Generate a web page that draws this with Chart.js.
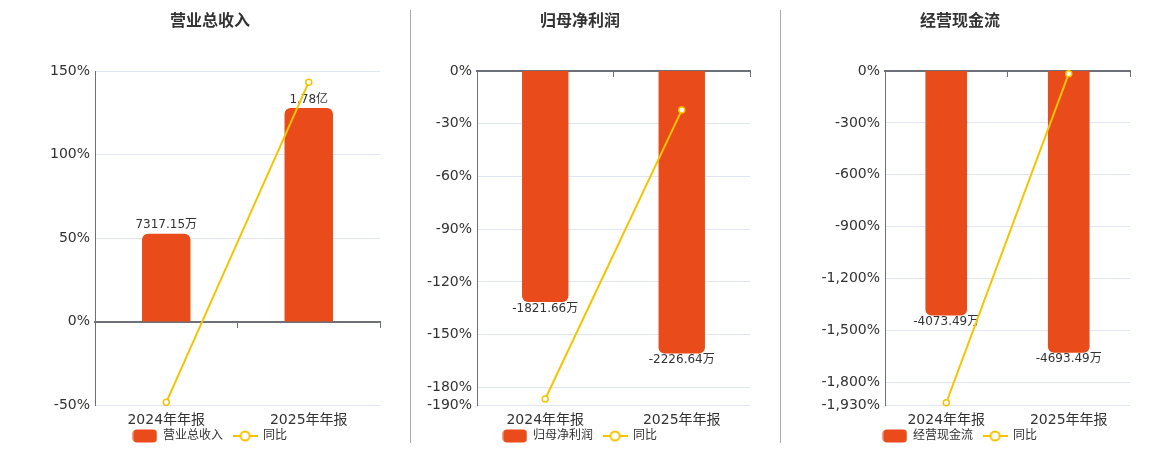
<!DOCTYPE html>
<html><head><meta charset="utf-8">
<script src="https://cdn.jsdelivr.net/npm/chart.js@4.4.1/dist/chart.umd.min.js"></script>
<style>
html,body{margin:0;padding:0;background:#fff;overflow:hidden;width:1160px;height:450px;position:relative;}
.p{position:absolute;top:0;height:452px;}
.sep{position:absolute;top:10px;height:433px;width:1px;background:#aaa;}
</style></head><body>
<div class="p" style="left:0;width:400px"><canvas id="c0"></canvas></div>
<div class="p" style="left:400px;width:380px"><canvas id="c1"></canvas></div>
<div class="p" style="left:780px;width:380px"><canvas id="c2"></canvas></div>
<div class="sep" style="left:410px"></div>
<div class="sep" style="left:780px"></div>
<script>
// ---- data ----
const categories = ['2024年年报', '2025年年报'];
const titles = ['营业总收入', '归母净利润', '经营现金流'];
const yoyLabel = '同比';

const revenueValues = [7317.15, 17800];
const revenueLabels = ['7317.15万', '1.78亿'];
const revenueYoY = [-48.4, 143.3];
const revenueTicks = [150, 100, 50, 0, -50];

const profitValues = [-1821.66, -2226.64];
const profitLabels = ['-1821.66万', '-2226.64万'];
const profitYoY = [-186.6, -22.23];
const profitTicks = [0, -30, -60, -90, -120, -150, -180, -190];

const cashValues = [-4073.49, -4693.49];
const cashLabels = ['-4073.49万', '-4693.49万'];
const cashYoY = [-1917, -15.22];
const cashTicks = [0, -300, -600, -900, -1200, -1500, -1800, -1930];

const barAxisMin = [-6964, -2633, -5562];
const barAxisMax = [20892, 0, 0];

// ---- style ----
const FONT = '"DejaVu Sans", "Noto Sans CJK SC", sans-serif';
const BAR = '#E94B1B';
const YEL = '#F5C400';
const AXIS = '#6E7079';
const GRID = '#E0E6F1';
const TXT = '#333';

Chart.defaults.font.family = FONT;

function makeIcon(kind) {
  const c = document.createElement('canvas');
  c.width = 25; c.height = 14;
  const g = c.getContext('2d');
  if (kind === 'bar') {
    g.fillStyle = BAR;
    g.beginPath();
    g.roundRect(0.5, 0.5, 24, 13, 4);
    g.fill();
  } else {
    g.strokeStyle = YEL; g.lineWidth = 2;
    g.beginPath(); g.moveTo(0, 7); g.lineTo(25, 7); g.stroke();
    g.fillStyle = '#fff';
    g.beginPath(); g.arc(12.5, 7, 4.5, 0, Math.PI * 2); g.fill(); g.stroke();
  }
  return c;
}
const barIcon = makeIcon('bar');
const lineIcon = makeIcon('line');

const layouts = [
  {pl: 20, pr: 0, yw: 75, y1w: 20},
  {pl: 0, pr: 20, yw: 77, y1w: 10},
  {pl: 0, pr: 20, yw: 105, y1w: 10}
];

// let x-axis labels extend below the (short) axis box without clipping
const unclipX = {
  id: 'unclipX',
  afterLayout(chart) {
    const s = chart.scales.x;
    s.bottom = s.top + 40;
  }
};

function makeChart(idx, title, values, labels, yoy, ticks) {
  const L = layouts[idx];
  const asc = ticks.slice().sort((a, b) => a - b);
  const labelPlugin = {
    id: 'barLabels' + idx,
    afterDatasetDraw(chart, args) {
      if (args.meta.type !== 'bar') return;
      const ctx = chart.ctx;
      ctx.save();
      ctx.font = '12px ' + FONT;
      ctx.fillStyle = TXT;
      ctx.textAlign = 'center';
      ctx.textBaseline = 'alphabetic';
      args.meta.data.forEach((el, i) => {
        if (values[i] >= 0) ctx.fillText(labels[i], el.x, el.y - 5.5);
        else ctx.fillText(labels[i], el.x, el.y + 9.5);
      });
      ctx.restore();
    }
  };
  return new Chart(document.getElementById('c' + idx), {
    type: 'bar',
    data: {
      labels: categories,
      datasets: [
        {type: 'bar', label: title, data: values, yAxisID: 'y1', backgroundColor: BAR,
         borderRadius: 6, borderSkipped: 'start', barPercentage: 0.34, categoryPercentage: 1, order: 2},
        {type: 'line', label: yoyLabel, data: yoy, yAxisID: 'y', borderColor: YEL, borderWidth: 2,
         pointRadius: 3, pointBackgroundColor: '#fff', pointBorderColor: YEL, pointBorderWidth: 1.5,
         tension: 0, order: 1, clip: false}
      ]
    },
    options: {
      responsive: true, maintainAspectRatio: false, animation: false,
      layout: {padding: {left: L.pl, right: L.pr, top: 0, bottom: 0}},
      plugins: {
        title: {display: true, text: title, color: TXT, font: {size: 16, weight: 'bold', family: FONT},
                padding: {top: 12.4, bottom: 39.4}},
        legend: {
          position: 'bottom',
          labels: {
            usePointStyle: true, pointStyleWidth: 24, padding: 10, color: TXT,
            font: {size: 12, family: FONT},
            generateLabels: () => [
              {text: title, pointStyle: barIcon, fillStyle: BAR, strokeStyle: BAR, lineWidth: 0, hidden: false, datasetIndex: 0, fontColor: TXT},
              {text: yoyLabel, pointStyle: lineIcon, fillStyle: '#fff', strokeStyle: YEL, lineWidth: 0, hidden: false, datasetIndex: 1, fontColor: TXT}
            ]
          }
        },
        tooltip: {enabled: false}
      },
      scales: {
        x: {
          grid: {display: false, drawTicks: false}, border: {display: false},
          ticks: {color: TXT, font: {size: 14, family: FONT}, padding: 7},
          afterFit: s => { s.height = 15; }
        },
        x2: {
          type: 'category', position: {y: 0}, offset: true,
          grid: {display: true, drawOnChartArea: false, drawTicks: true, tickLength: 5, color: AXIS, offset: true, lineWidth: 1},
          border: {display: true, color: AXIS, width: 2},
          ticks: {display: false}
        },
        y: {
          position: 'left', min: asc[0], max: asc[asc.length - 1],
          afterBuildTicks: s => { s.ticks = asc.map(v => ({value: v})); },
          ticks: {autoSkip: false, color: TXT, font: {size: 14, family: FONT}, padding: 5,
                  callback: v => Number(v).toLocaleString('en-US') + '%'},
          grid: {color: GRID, drawTicks: false},
          border: {display: true, color: AXIS, width: 1},
          afterFit: s => { s.width = L.yw; }
        },
        y1: {
          position: 'right', min: barAxisMin[idx], max: barAxisMax[idx],
          ticks: {display: false}, grid: {display: false}, border: {display: false},
          afterFit: s => { s.width = L.y1w; }
        }
      }
    },
    plugins: [labelPlugin, unclipX]
  });
}

makeChart(0, titles[0], revenueValues, revenueLabels, revenueYoY, revenueTicks);
makeChart(1, titles[1], profitValues, profitLabels, profitYoY, profitTicks);
makeChart(2, titles[2], cashValues, cashLabels, cashYoY, cashTicks);
</script>
</body></html>
